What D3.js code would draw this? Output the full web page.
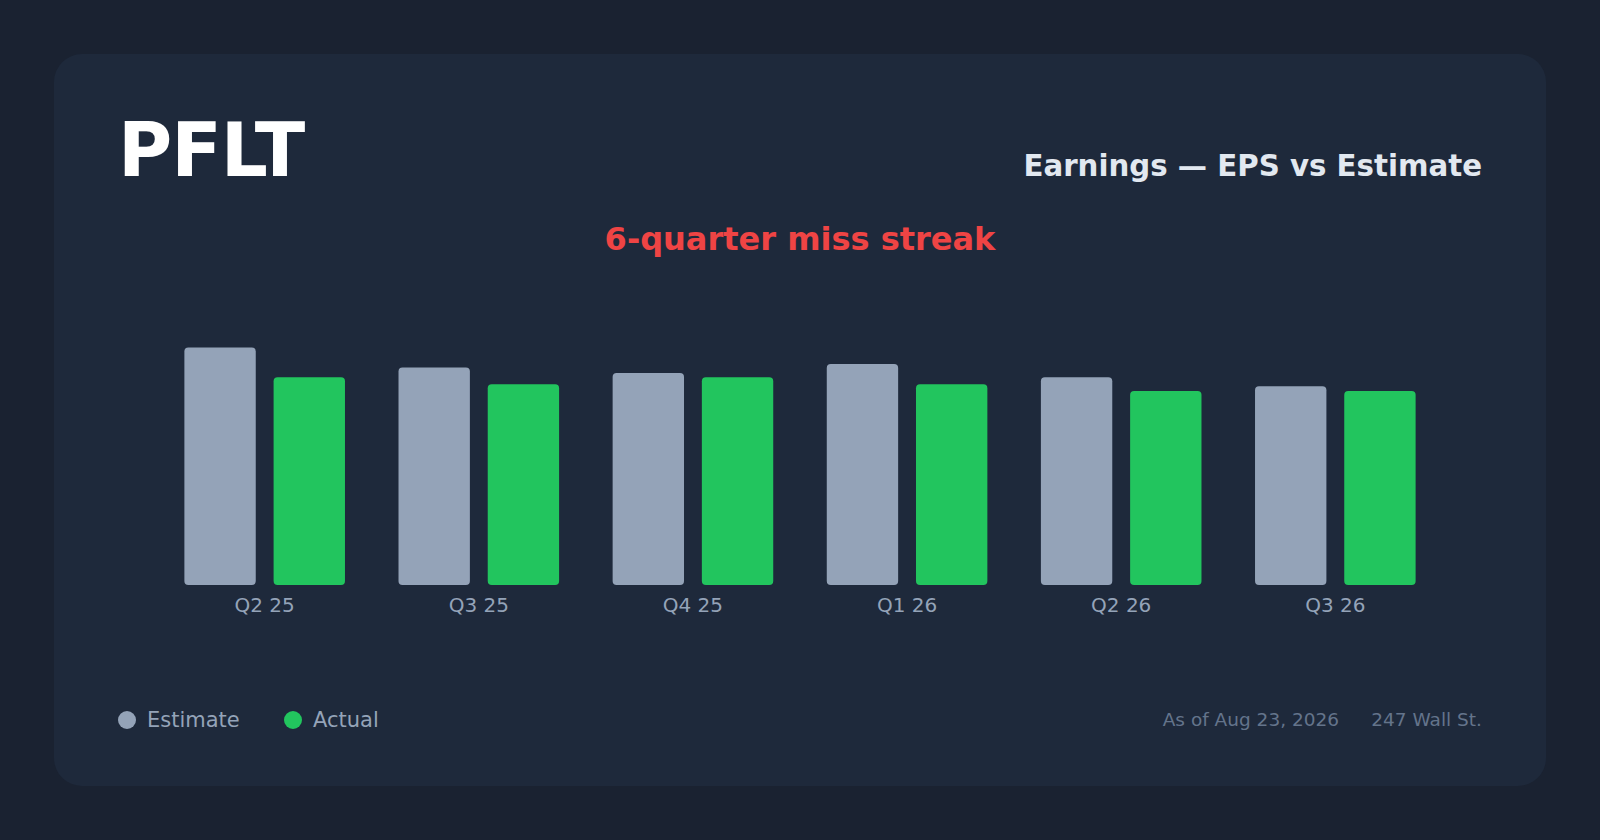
<!DOCTYPE html>
<html>
<head>
<meta charset="utf-8">
<script src="https://cdn.jsdelivr.net/npm/d3@7"></script>
<style>
  html, body { margin: 0; padding: 0; background: #1a2231; }
  svg { display: block; font-family: "DejaVu Sans", sans-serif; }
</style>
</head>
<body>
<div id="chart"></div>
<script>
var quarters = ["Q2 25", "Q3 25", "Q4 25", "Q1 26", "Q2 26", "Q3 26"];
var estimate = [0.343, 0.314, 0.306, 0.319, 0.300, 0.287];
var actual = [0.30, 0.29, 0.30, 0.29, 0.28, 0.28];
var seriesNames = ["Estimate", "Actual"];
var seriesColors = ["#94a3b8", "#22c55e"];

var w = 1600, h = 840;
var padL = 118, padR = 1482;

var svg = d3.select("#chart")
  .append("svg")
  .attr("width", w)
  .attr("height", h);

svg.append("rect")
  .attr("width", w)
  .attr("height", h)
  .attr("fill", "#1a2231");

svg.append("rect")
  .attr("x", 54)
  .attr("y", 54)
  .attr("width", 1492)
  .attr("height", 732)
  .attr("rx", 28)
  .attr("fill", "#1e293b");

// header
svg.append("text")
  .attr("x", padL)
  .attr("y", 176)
  .attr("fill", "#ffffff")
  .style("font-size", "74px")
  .style("font-weight", "bold")
  .style("letter-spacing", "-1px")
  .text("PFLT");

svg.append("text")
  .attr("x", padR)
  .attr("y", 176)
  .attr("text-anchor", "end")
  .attr("fill", "#e2e8f0")
  .style("font-size", "29.25px")
  .style("font-weight", "bold")
  .text("Earnings — EPS vs Estimate");

svg.append("text")
  .attr("x", 800)
  .attr("y", 250)
  .attr("text-anchor", "middle")
  .attr("fill", "#ef4444")
  .style("font-size", "32px")
  .style("font-weight", "bold")
  .text("6-quarter miss streak");

// bars
var data = quarters.map(function(q, i) {
  return { q: q, values: [estimate[i], actual[i]] };
});

var x0 = d3.scaleBand()
  .domain(quarters)
  .range([padL, padR])
  .paddingInner(0.25)
  .paddingOuter(0.31);

var x1 = d3.scaleBand()
  .domain(d3.range(seriesNames.length))
  .range([0, x0.bandwidth()])
  .paddingInner(0.2);

var y = d3.scaleLinear()
  .domain([0, 0.40])
  .range([585, 308]);

var groups = svg.selectAll("g.grp")
  .data(data)
  .enter()
  .append("g")
  .attr("class", "grp")
  .attr("transform", function(d) { return "translate(" + x0(d.q) + ",0)"; });

groups.selectAll("rect")
  .data(function(d) { return d.values; })
  .enter()
  .append("rect")
  .attr("x", function(d, i) { return x1(i); })
  .attr("y", function(d) { return y(d); })
  .attr("width", x1.bandwidth())
  .attr("height", function(d) { return y(0) - y(d); })
  .attr("rx", 4)
  .attr("fill", function(d, i) { return seriesColors[i]; });

var xAxis = svg.append("g")
  .attr("transform", "translate(0," + y(0) + ")")
  .call(d3.axisBottom(x0).tickSize(0).tickPadding(27));
xAxis.select(".domain").remove();
xAxis.selectAll("text")
  .attr("dy", 0)
  .attr("fill", "#94a3b8")
  .style("font-size", "20px")
  .style("font-family", "DejaVu Sans, sans-serif");

// legend
var legend = svg.selectAll("g.leg")
  .data(seriesNames)
  .enter()
  .append("g")
  .attr("class", "leg")
  .attr("transform", function(d, i) { return "translate(" + [127, 293][i] + ",720)"; });

legend.append("circle")
  .attr("r", 9)
  .attr("fill", function(d, i) { return seriesColors[i]; });

legend.append("text")
  .attr("x", 20)
  .attr("y", 7)
  .attr("fill", "#94a3b8")
  .style("font-size", "21px")
  .text(function(d) { return d; });

// footer
svg.append("text")
  .attr("x", padR)
  .attr("y", 726)
  .attr("text-anchor", "end")
  .attr("fill", "#64748b")
  .style("font-size", "18.5px")
  .text("247 Wall St.");

svg.append("text")
  .attr("x", 1339)
  .attr("y", 726)
  .attr("text-anchor", "end")
  .attr("fill", "#64748b")
  .style("font-size", "18.5px")
  .text("As of Aug 23, 2026");
</script>
</body>
</html>
